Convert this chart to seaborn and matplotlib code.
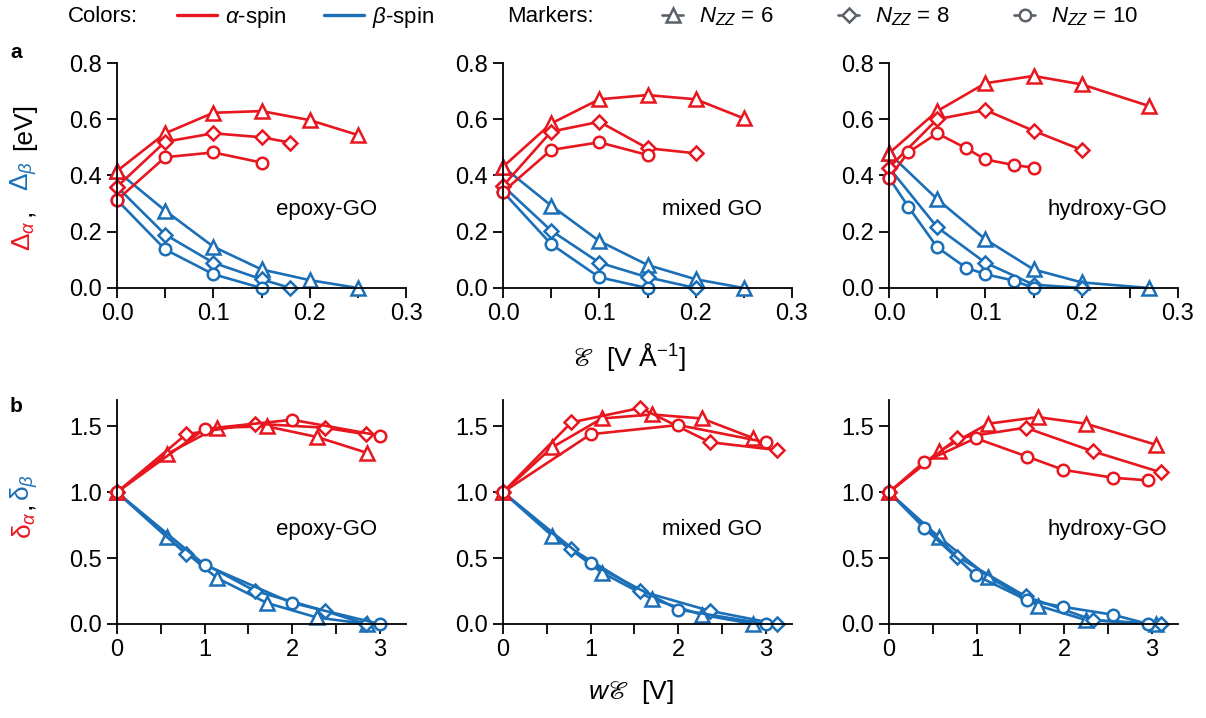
import matplotlib
matplotlib.use("Agg")
import matplotlib.pyplot as plt
from matplotlib.lines import Line2D
from matplotlib.ticker import MultipleLocator, FormatStrFormatter
import numpy as np
import pandas as pd
import seaborn as sns

# ---------------- data ----------------
materials = ["epoxy-GO", "mixed GO", "hydroxy-GO"]
n_zz = [6, 8, 10]

# panel a: field E (V/Å) vs. gaps Δ (eV)
epoxy_field = {6: [0, .05, .10, .15, .20, .25], 8: [0, .05, .10, .15, .18], 10: [0, .05, .10, .15]}
epoxy_gap_alpha = {6: [0.416, 0.550, 0.623, 0.629, 0.597, 0.544],
                   8: [0.360, 0.520, 0.550, 0.536, 0.517],
                   10: [0.313, 0.465, 0.482, 0.446]}
epoxy_gap_beta = {6: [0.416, 0.275, 0.147, 0.066, 0.028, 0.0],
                  8: [0.360, 0.190, 0.090, 0.031, 0.0],
                  10: [0.313, 0.137, 0.049, 0.0]}

mixed_field = {6: [0, .05, .10, .15, .20, .25], 8: [0, .05, .10, .15, .20], 10: [0, .05, .10, .15]}
mixed_gap_alpha = {6: [0.431, 0.585, 0.671, 0.686, 0.671, 0.603],
                   8: [0.363, 0.556, 0.591, 0.497, 0.479],
                   10: [0.342, 0.491, 0.518, 0.473]}
mixed_gap_beta = {6: [0.431, 0.293, 0.167, 0.082, 0.031, 0.0],
                  8: [0.363, 0.204, 0.090, 0.038, 0.0],
                  10: [0.342, 0.156, 0.038, 0.0]}

hydroxy_field = {6: [0, .05, .10, .15, .20, .27], 8: [0, .05, .10, .15, .20],
                 10: [0, .02, .05, .08, .10, .13, .15]}
hydroxy_gap_alpha = {6: [0.479, 0.629, 0.728, 0.754, 0.724, 0.647],
                     8: [0.428, 0.600, 0.633, 0.559, 0.491],
                     10: [0.392, 0.482, 0.550, 0.497, 0.457, 0.437, 0.428]}
hydroxy_gap_beta = {6: [0.479, 0.316, 0.173, 0.066, 0.020, 0.0],
                    8: [0.428, 0.216, 0.090, 0.012, 0.0],
                    10: [0.392, 0.289, 0.145, 0.072, 0.049, 0.026, 0.0]}

# panel b: wE (V) vs. normalised gaps δ
epoxy_wE = {6: [0, 0.57, 1.14, 1.71, 2.28, 2.85], 8: [0, 0.79, 1.58, 2.37, 2.84], 10: [0, 1.0, 2.0, 3.0]}
epoxy_delta_alpha = {6: [1, 1.29, 1.49, 1.50, 1.42, 1.30], 8: [1, 1.44, 1.52, 1.49, 1.44], 10: [1, 1.48, 1.55, 1.43]}
epoxy_delta_beta = {6: [1, 0.66, 0.35, 0.16, 0.05, 0.0], 8: [1, 0.53, 0.25, 0.10, 0.0], 10: [1, 0.45, 0.16, 0.0]}

mixed_wE = {6: [0, 0.56, 1.13, 1.70, 2.27, 2.86], 8: [0, 0.78, 1.57, 2.36, 3.13], 10: [0, 1.0, 2.0, 3.0]}
mixed_delta_alpha = {6: [1, 1.34, 1.56, 1.59, 1.56, 1.41], 8: [1, 1.53, 1.64, 1.38, 1.32], 10: [1, 1.44, 1.51, 1.38]}
mixed_delta_beta = {6: [1, 0.67, 0.39, 0.19, 0.07, 0.0], 8: [1, 0.57, 0.25, 0.10, 0.0], 10: [1, 0.46, 0.11, 0.0]}

hydroxy_wE = {6: [0, 0.57, 1.13, 1.70, 2.25, 3.05], 8: [0, 0.78, 1.56, 2.33, 3.11],
              10: [0, 0.40, 0.99, 1.58, 1.99, 2.56, 2.96]}
hydroxy_delta_alpha = {6: [1, 1.31, 1.52, 1.57, 1.52, 1.36], 8: [1, 1.41, 1.49, 1.31, 1.15],
                       10: [1, 1.23, 1.41, 1.27, 1.17, 1.11, 1.09]}
hydroxy_delta_beta = {6: [1, 0.66, 0.36, 0.14, 0.03, 0.0], 8: [1, 0.51, 0.21, 0.03, 0.0],
                      10: [1, 0.73, 0.37, 0.18, 0.13, 0.07, 0.0]}

panel_a_sets = [(epoxy_field, epoxy_gap_alpha, epoxy_gap_beta),
                (mixed_field, mixed_gap_alpha, mixed_gap_beta),
                (hydroxy_field, hydroxy_gap_alpha, hydroxy_gap_beta)]
panel_b_sets = [(epoxy_wE, epoxy_delta_alpha, epoxy_delta_beta),
                (mixed_wE, mixed_delta_alpha, mixed_delta_beta),
                (hydroxy_wE, hydroxy_delta_alpha, hydroxy_delta_beta)]

rows = []
for row, sets in (("a", panel_a_sets), ("b", panel_b_sets)):
    for mat, (xs, ya, yb) in zip(materials, sets):
        for n in n_zz:
            for spin, ys in (("alpha", ya), ("beta", yb)):
                for xv, yv in zip(xs[n], ys[n]):
                    rows.append(dict(row=row, material=mat, N=n, spin=spin, x=xv, y=yv))
df = pd.DataFrame(rows)

# ---------------- style ----------------
sns.set_style("ticks")
plt.rcParams["font.family"] = ["Liberation Sans", "DejaVu Sans", "STIXGeneral"]
plt.rcParams["mathtext.fontset"] = "custom"
plt.rcParams["mathtext.rm"] = "Liberation Sans"
plt.rcParams["mathtext.it"] = "Liberation Sans:italic"
plt.rcParams["mathtext.bf"] = "Liberation Sans:bold"
plt.rcParams["mathtext.fallback"] = "stix"
for key in ("text.color", "axes.labelcolor", "axes.edgecolor", "xtick.color", "ytick.color"):
    plt.rcParams[key] = "black"

RED = "#E8161F"
BLUE = "#1B6FB7"
GRAY = "#5A6168"
spin_color = {"alpha": RED, "beta": BLUE}
marker_of = {6: "^", 8: "D", 10: "o"}
msize_of = {6: 9.5, 8: 7.0, 10: 8.3}
LW = 1.9
MEW = 1.8

W, H = 1206, 718
fig = plt.figure(figsize=(W / 100, H / 100), dpi=100)

lefts = [117, 503, 889]
ax_w = 289
rect_a = (288, 225)   # bottom px, height px
rect_b = (624, 224)

for r, (bottom_px, h_px) in zip(["a", "b"], [rect_a, rect_b]):
    for c, mat in enumerate(materials):
        ax = fig.add_axes([lefts[c] / W, 1 - bottom_px / H, ax_w / W, h_px / H])
        for spin in ["beta", "alpha"]:
            for n in n_zz:
                sub = df[(df.row == r) & (df.material == mat) & (df.spin == spin) & (df.N == n)]
                sns.lineplot(data=sub, x="x", y="y", ax=ax, color=spin_color[spin],
                             marker=marker_of[n], markersize=msize_of[n],
                             markeredgewidth=MEW, markeredgecolor=spin_color[spin],
                             markerfacecolor="white", linewidth=LW, clip_on=False,
                             sort=False, estimator=None, errorbar=None, legend=False)
        for ln in ax.lines:
            ln.set_markerfacecolor("white")
            ln.set_markeredgecolor(ln.get_color())
            ln.set_clip_on(False)
        sns.despine(ax=ax)
        for sp in ("left", "bottom"):
            ax.spines[sp].set_linewidth(1.3)
            ax.spines[sp].set_color("black")
        ax.tick_params(which="both", direction="out", length=7, width=1.3,
                       labelsize=17, pad=4, colors="black")
        ax.set_xlabel("")
        ax.set_ylabel("")
        if r == "a":
            ax.set_xlim(0, 0.3)
            ax.set_ylim(0, 0.8)
            ax.xaxis.set_major_locator(MultipleLocator(0.1))
            ax.xaxis.set_minor_locator(MultipleLocator(0.05))
            ax.yaxis.set_major_locator(MultipleLocator(0.2))
            ax.xaxis.set_major_formatter(FormatStrFormatter("%.1f"))
            ax.yaxis.set_major_formatter(FormatStrFormatter("%.1f"))
            ax.text(0.55, 0.347, mat, transform=ax.transAxes, fontsize=16,
                    ha="left", va="center", color="black")
        else:
            ax.set_xlim(0, 3.3)
            ax.set_ylim(0, 1.7)
            ax.xaxis.set_major_locator(MultipleLocator(1))
            ax.xaxis.set_minor_locator(MultipleLocator(0.5))
            ax.yaxis.set_major_locator(MultipleLocator(0.5))
            ax.xaxis.set_major_formatter(FormatStrFormatter("%d"))
            ax.yaxis.set_major_formatter(FormatStrFormatter("%.1f"))
            ax.text(0.55, 0.42, mat, transform=ax.transAxes, fontsize=16,
                    ha="left", va="center", color="black")
        ax.yaxis.set_minor_locator(plt.NullLocator())
        ax.set_facecolor("none")

# ---------------- labels ----------------
def ftxt(x, y, s, **kw):
    kw.setdefault("color", "black")
    fig.text(x / W, 1 - y / H, s, **kw)

lab_kw = dict(rotation=90, ha="center", va="center", fontsize=19)
ftxt(24, 236, r"$\Delta_\alpha$", color=RED, **lab_kw)
ftxt(24, 212, ",", **lab_kw)
ftxt(24, 176, r"$\Delta_\beta$", color=BLUE, **lab_kw)
ftxt(24, 127, "[eV]", **lab_kw)

ftxt(24, 525, r"$\mathrm{\delta}_\alpha$", color=RED, **lab_kw)
ftxt(24, 505, ",", **lab_kw)
ftxt(24, 487, r"$\mathrm{\delta}_\beta$", color=BLUE, **lab_kw)

ftxt(629, 357, r"$ℰ$  [V Å$^{-1}$]", ha="center", va="center", fontsize=19)
ftxt(631, 692, r"$wℰ$  [V]", ha="center", va="center", fontsize=19)

ftxt(10, 53, "a", fontsize=15, fontweight="bold", ha="left", va="center")
ftxt(10, 407, "b", fontsize=15, fontweight="bold", ha="left", va="center")

# ---------------- top legend ----------------
ftxt(68, 17, "Colors:", fontsize=16, ha="left", va="center")
ftxt(507, 17, "Markers:", fontsize=16, ha="left", va="center")

color_handles = [Line2D([0], [0], color=RED, lw=2.4), Line2D([0], [0], color=BLUE, lw=2.4)]
leg1 = fig.legend(handles=color_handles, labels=[r"$\alpha$-spin", r"$\beta$-spin"],
                  loc="center left", bbox_to_anchor=(177 / W, 1 - 17 / H), ncol=2,
                  frameon=False, fontsize=16, handlelength=1.8, handletextpad=0.36,
                  columnspacing=1.67, borderpad=0, borderaxespad=0, labelcolor="black")

marker_handles = [Line2D([0], [0], color=GRAY, lw=LW, marker=marker_of[n],
                         markersize=msize_of[n], markerfacecolor="white",
                         markeredgecolor=GRAY, markeredgewidth=MEW) for n in n_zz]
leg2 = fig.legend(handles=marker_handles, labels=[r"$N_{ZZ}$ = %d" % n for n in n_zz],
                  loc="center left", bbox_to_anchor=(662 / W, 1 - 17 / H), ncol=3,
                  frameon=False, fontsize=16, handlelength=0.95, handletextpad=0.72,
                  columnspacing=2.9, borderpad=0, borderaxespad=0, labelcolor="black")

fig.savefig("out.png", dpi=100)
